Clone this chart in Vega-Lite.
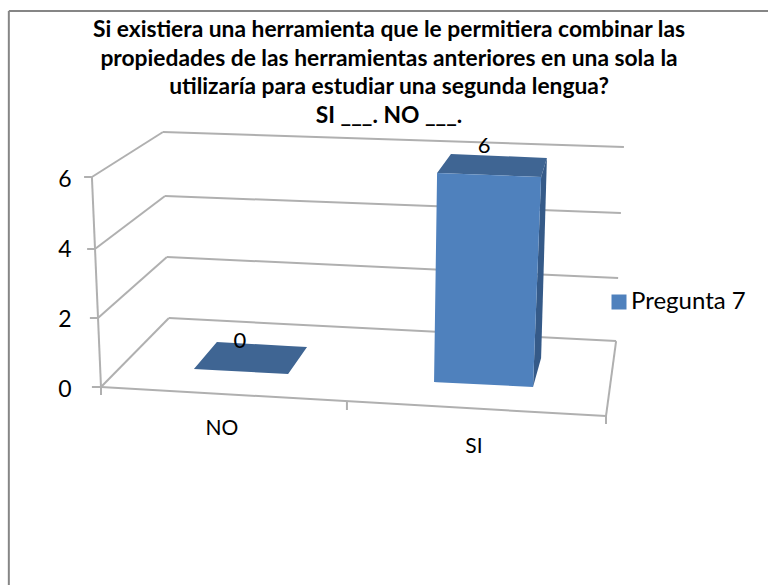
{
"$schema":"https://vega.github.io/schema/vega-lite/v6.json",
"width":768,"height":585,"padding":0,"autosize":{"type":"none"},"background":"#ffffff",
"config":{"view":{"stroke":null},"font":"Lato"},
"title":{"text":["Si existiera una herramienta que le permitiera combinar las","propiedades de las herramientas anteriores en una sola la","utilizaría para estudiar una segunda lengua?","    SI  ___.  NO ___."],"font":"Lato","fontSize":22.8,"fontWeight":"bold","color":"#000000","lineHeight":28.8,"anchor":"middle","dx":5,"offset":-128},
"datasets":{
"marco":[{"pos":-0.365,"valor":-5.657,"pos2":-0.365,"valor2":10.74},{"pos":-0.365,"valor":10.74,"pos2":2.65,"valor2":10.74}],
"reticula":[
{"pos":-0.036,"valor":6,"pos2":0.2455,"valor2":7.286},{"pos":0.2455,"valor":7.286,"pos2":2.071,"valor2":6.857},
{"pos":-0.024,"valor":3.943,"pos2":0.2535,"valor2":5.457},{"pos":0.2535,"valor":5.457,"pos2":2.059,"valor2":4.971},
{"pos":-0.012,"valor":1.971,"pos2":0.261,"valor2":3.714},{"pos":0.261,"valor":3.714,"pos2":2.048,"valor2":3.114},
{"pos":0,"valor":0,"pos2":0.269,"valor2":1.971},{"pos":0.269,"valor":1.971,"pos2":2.04,"valor2":1.314},
{"pos":2.04,"valor":1.314,"pos2":2,"valor2":-0.829},{"pos":2,"valor":-0.829,"pos2":0,"valor2":0},
{"pos":-0.036,"valor":6,"pos2":0,"valor2":0},
{"pos":-0.067,"valor":6,"pos2":-0.036,"valor2":6},{"pos":-0.055,"valor":3.943,"pos2":-0.024,"valor2":3.943},
{"pos":-0.044,"valor":1.971,"pos2":-0.012,"valor2":1.971},{"pos":-0.036,"valor":0,"pos2":0,"valor2":0},
{"pos":0,"valor":0,"pos2":0,"valor2":-0.229},{"pos":0.974,"valor":-0.429,"pos2":0.974,"valor2":-0.657},
{"pos":2,"valor":-0.829,"pos2":2,"valor2":-1.057}
],
"frente":[
{"pos":1.319,"valor":0.143,"valor2":0.143},{"pos":1.331,"valor":6.114,"valor2":0.139},
{"pos":1.711,"valor":6.009,"valor2":0},{"pos":1.743,"valor":6,"valor2":6}
],
"techo":[
{"cara":"NO","pos":0.368,"valor":0.514,"valor2":0.514},{"cara":"NO","pos":0.459,"valor":1.286,"valor2":0.48},
{"cara":"NO","pos":0.741,"valor":1.174,"valor2":0.371},{"cara":"NO","pos":0.816,"valor":1.143,"valor2":1.143},
{"cara":"SI","pos":1.331,"valor":6.114,"valor2":6.114},{"cara":"SI","pos":1.386,"valor":6.657,"valor2":6.1},
{"cara":"SI","pos":1.743,"valor":6.55,"valor2":6},{"cara":"SI","pos":1.766,"valor":6.543,"valor2":6.543}
],
"lado":[
{"pos":1.711,"valor":0,"valor2":0},{"pos":1.743,"valor":6,"valor2":0.829},{"pos":1.766,"valor":6.543,"valor2":6.543}
],
"etiquetas":[{"categoria":"NO","texto":"0","pos":0.55,"valor":1.314},{"categoria":"SI","texto":"6","pos":1.517,"valor":6.886}],
"categorias":[{"texto":"NO","pos":0.479,"valor":-1.2},{"texto":"SI","pos":1.477,"valor":-1.7}]
},
"encoding":{
"x":{"field":"pos","type":"quantitative","axis":null,"scale":{"domain":[-0.4,2.6416],"nice":false,"zero":false}},
"y":{"field":"valor","type":"quantitative","scale":{"domain":[-5.657,11.057],"nice":false,"zero":false},
"axis":{"values":[0,2,4,6],"format":"d","title":null,"domain":false,"ticks":false,"grid":false,"offset":-71,"labelPadding":0,"labelOffset":2.5,"labelFontSize":23,"labelFont":"Lato","labelColor":"#000000"}}
},
"layer":[
{"data":{"name":"marco"},"mark":{"type":"rule","color":"#868686","strokeWidth":2},"encoding":{"x2":{"field":"pos2"},"y2":{"field":"valor2"}}},
{"data":{"name":"reticula"},"mark":{"type":"rule","color":"#b0b0b0","strokeWidth":2},"encoding":{"x2":{"field":"pos2"},"y2":{"field":"valor2"}}},
{"data":{"name":"techo"},"mark":{"type":"area","color":"#3f6593","interpolate":"linear","orient":"vertical"},"encoding":{"y2":{"field":"valor2"},"detail":{"field":"cara"}}},
{"data":{"name":"lado"},"mark":{"type":"area","color":"#355a88","interpolate":"linear","orient":"vertical"},"encoding":{"y2":{"field":"valor2"}}},
{"data":{"name":"frente"},"mark":{"type":"area","interpolate":"linear","orient":"vertical"},"encoding":{"y2":{"field":"valor2"},
"color":{"datum":"Pregunta 7","scale":{"range":["#4f81bd"]},"legend":{"title":null,"orient":"none","legendX":607,"legendY":290,"padding":0,"symbolType":"square","symbolSize":225,"symbolStrokeWidth":0,"labelFontSize":24,"labelFont":"Lato","labelColor":"#000000","labelOffset":0}}}},
{"data":{"name":"etiquetas"},"mark":{"type":"text","fontSize":22,"font":"Lato","color":"#000000","align":"center","baseline":"middle"},"encoding":{"text":{"field":"texto"}}},
{"data":{"name":"categorias"},"mark":{"type":"text","fontSize":21,"font":"Lato","color":"#000000","align":"center","baseline":"middle"},"encoding":{"text":{"field":"texto"}}}
]
}
